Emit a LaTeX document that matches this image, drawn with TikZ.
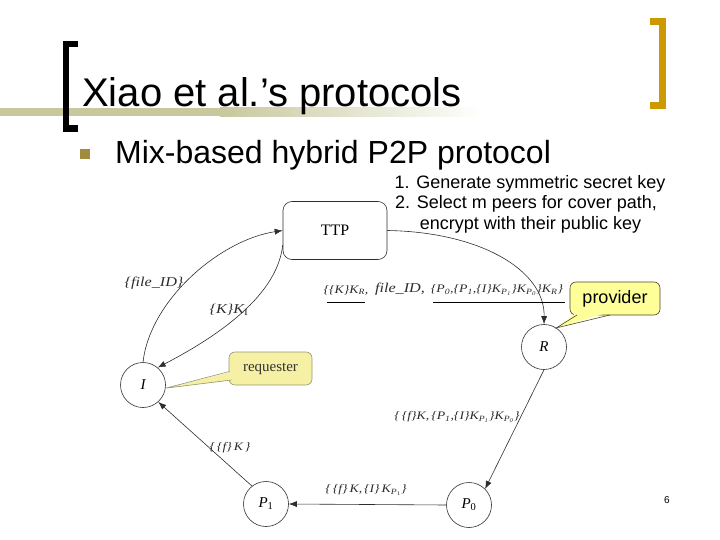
\documentclass[tikz,border=0pt]{standalone}
\usepackage{fontspec}
\setmainfont{Liberation Sans}
\newfontfamily\tms[FakeStretch=1.2]{Liberation Serif}
\newfontfamily\tmsn{Liberation Serif}
\usetikzlibrary{arrows.meta}
\definecolor{olivebar}{RGB}{200,200,158}
\definecolor{goldbr}{RGB}{204,153,0}
\definecolor{bulletcol}{RGB}{160,140,60}
\definecolor{linec}{RGB}{45,45,45}
\definecolor{reqfill}{RGB}{246,240,165}
\definecolor{reqborder}{RGB}{150,150,120}
\definecolor{provfill}{RGB}{255,255,153}
\definecolor{provborder}{RGB}{70,70,40}
\tikzset{
  peer/.style={circle, draw=linec, line width=0.6pt, minimum size=45pt, inner sep=0pt, font=\tmsn\itshape\fontsize{15}{15}\selectfont},
  edge/.style={draw=linec, line width=0.6pt, -{Latex[length=8pt,width=6pt]}},
  lbl/.style={inner sep=0pt, text=linec, font=\tms\itshape\fontsize{13.5}{13.5}\selectfont},
  slbl/.style={inner sep=0pt, text=linec, font=\tms\itshape\fontsize{11.5}{11.5}\selectfont},
  toptext/.style={anchor=base, inner sep=0pt, font=\fontsize{18}{18}\selectfont}
}
\begin{document}
\begin{tikzpicture}[x=1pt,y=-1pt]
\useasboundingbox (0,0) rectangle (720,540);
% title bar
\fill[olivebar] (0,108) rectangle (220,116.5);
\shade[left color=olivebar, right color=white] (220,108) rectangle (485,116.5);
% brackets
\fill[black] (62.7,40.7) rectangle (69.3,131.7);
\fill[black] (62.7,40.7) rectangle (78,47.3);
\fill[black] (62.7,125) rectangle (78,131.7);
\fill[goldbr] (659.3,18.3) rectangle (665.7,109);
\fill[goldbr] (650,18.3) rectangle (665.7,25);
\fill[goldbr] (650,102.3) rectangle (665.7,109);
% title
\node[anchor=base west, inner sep=0pt, font=\fontsize{40}{40}\selectfont] (title) at (82,107) {Xiao et al.’s protocols};
% bullet
\fill[bulletcol] (80,149) rectangle (90,159);
\node[anchor=base west, inner sep=0pt, font=\fontsize{32}{32}\selectfont] (bul) at (115,164) {Mix-based hybrid P2P protocol};
% top-right notes
\node[toptext] (n1) at (530,188.5) {1. Generate symmetric secret key};
\node[toptext] (n2) at (526,209) {2. Select m peers for cover path,};
\node[toptext] (n3) at (530.5,229.5) {encrypt with their public key};
% page number
\node[inner sep=0pt, font=\fontsize{10}{10}\selectfont] (pg) at (667,500) {6};

% diagram nodes
\node[draw=linec, line width=0.6pt, rounded corners=9pt, minimum width=104pt, minimum height=58pt, font=\tmsn\fontsize{16}{16}\selectfont] (ttp) at (335,230.5) {TTP};
\node[peer] (R) at (544,347) {R};
\node[peer] (I) at (143,385) {I};
\node[peer] (P1) at (266,504) {P\textsubscript{\upshape 1}};
\node[peer] (P0) at (469,505) {P\textsubscript{\upshape 0}};

% callouts
\node[draw=reqborder, fill=reqfill, line width=0.6pt, rounded corners=6pt, minimum width=83pt, minimum height=33pt, inner sep=0pt, text=black!80, font=\tmsn\fontsize{15}{15}\selectfont] (req) at (270.5,368.5) {requester};
\fill[reqfill] (233,371.5) -- (I.-8) -- (236,380) -- cycle;
\draw[reqborder, line width=0.6pt] (229.3,371.5) -- (I.-8) -- (231.5,380);
\node[draw=provborder, fill=provfill, line width=0.6pt, rounded corners=6pt, minimum width=90pt, minimum height=33pt, inner sep=0pt, font=\fontsize{18}{18}\selectfont] (prov) at (615,298.5) {provider};
\fill[provfill] (577,312) -- (R.57) -- (610,312) -- cycle;
\draw[provborder, line width=0.6pt] (577,315) -- (R.57) -- (610,315);

% edges
\draw[edge] (I.north) .. controls (150,300) and (220,240) .. (ttp.west);
\draw[edge] ([yshift=-14.5pt]ttp.west) .. controls (278,290) and (230,330) .. (I.50);
\draw[edge] (ttp.east) .. controls (480,232) and (545,270) .. (R.north);
\draw[edge] (R.south) -- (P0.45);
\draw[edge] (P0.west) -- (P1.east);
\draw[edge] (P1.128) -- (I.-48);

% edge labels
\node[lbl] (l1) at (154,283) {\{file\_ID\}};
\node[lbl] (l2) at (229,310) {\{K\}K\textsubscript{\upshape I}};
\node[slbl] (l3) at (346,290) {\{\{K\}K\textsubscript{R},};
\node[lbl] (l4) at (400,289) {file\_ID,};
\node[slbl] (l5) at (497,290) {\{P\textsubscript{0},\{P\textsubscript{1},\{I\}K\textsubscript{P\textsubscript{1}}\}K\textsubscript{P\textsubscript{0}}\}K\textsubscript{R}\}};
\draw[black, line width=0.6pt] (327,302) -- (365,302);
\draw[black, line width=0.6pt] (433,302) -- (565,302);
\node[slbl] (l6) at (457,417) {\{\,\{f\}K,\,\{P\textsubscript{1},\{I\}K\textsubscript{P\textsubscript{1}}\}K\textsubscript{P\textsubscript{0}}\}};
\node[slbl] (l7) at (366,490) {\{\,\{f\}\,K,\,\{I\}\,K\textsubscript{P\textsubscript{\upshape 1}}\}};
\node[slbl] (l8) at (230,448) {\{\,\{f\}\,K\,\}};
\end{tikzpicture}
\end{document}
